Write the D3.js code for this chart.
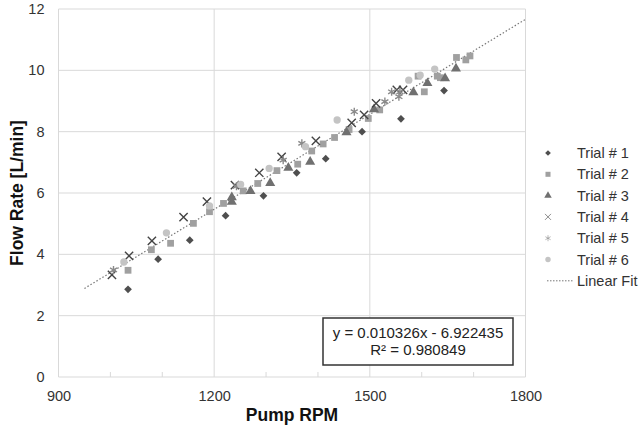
<!DOCTYPE html>
<html><head><meta charset="utf-8">
<script src="https://cdn.jsdelivr.net/npm/d3@7"></script>
<style>body{margin:0;background:#fff;} text{font-family:"Liberation Sans",Arial,sans-serif;}</style>
</head><body>
<svg id="c" width="639" height="430"></svg>
<script>
// Data (RPM, flow rate L/min)
const trial1 = [[1034,2.86],[1092,3.84],[1153,4.46],[1222,5.26],[1295,5.91],[1359,6.66],[1415,7.12],[1485,8.0],[1560,8.42],[1643,9.34]];
const trial2 = [[1034,3.48],[1079,4.15],[1116,4.36],[1160,5.01],[1191,5.39],[1218,5.66],[1256,6.07],[1284,6.31],[1321,6.73],[1361,6.94],[1388,7.37],[1410,7.60],[1432,7.81],[1460,8.07],[1497,8.43],[1519,8.71],[1593,9.81],[1605,9.30],[1630,9.81],[1636,9.76],[1667,10.42],[1685,10.34],[1693,10.47]];
const trial3 = [[1234,5.71],[1234,5.86],[1270,6.06],[1308,6.32],[1343,6.82],[1385,7.02],[1455,7.98],[1508,8.73],[1584,9.28],[1611,9.58],[1645,9.74],[1666,10.06]];
const trial4 = [[1003,3.33],[1036,3.95],[1080,4.44],[1141,5.21],[1186,5.72],[1240,6.26],[1287,6.66],[1330,7.18],[1396,7.70],[1465,8.29],[1489,8.55],[1512,8.92],[1552,9.36],[1564,9.36]];
const trial5 = [[1006,3.49],[1243,6.22],[1333,7.07],[1369,7.62],[1470,8.65],[1529,8.98],[1542,9.30],[1558,9.30],[1556,9.14]];
const trial6 = [[1026,3.75],[1108,4.70],[1191,5.58],[1251,6.28],[1306,6.80],[1376,7.51],[1437,8.38],[1575,9.68],[1597,9.84],[1625,10.04]];
const seriesNames = ["Trial # 1","Trial # 2","Trial # 3","Trial # 4","Trial # 5","Trial # 6"];
const fitSlope = 0.010326, fitIntercept = -6.922435, fitR2 = "0.980849";
const fitRange = [950, 1800];
const xTicks = [900,1200,1500,1800];
const xMinorTicks = [1000,1100,1300,1400,1600,1700];
const yTicks = [0,2,4,6,8,10,12];

const series = [trial1,trial2,trial3,trial4,trial5,trial6];
const styles = [
  {sym:d3.symbolSquare, size:30, rot:45, fill:"#4f4f4f", stroke:null},
  {sym:d3.symbolSquare, size:46, rot:0, fill:"#a0a0a0", stroke:null},
  {sym:d3.symbolTriangle, size:44, rot:0, fill:"#707070", stroke:null},
  {sym:d3.symbolTimes, size:46, rot:0, fill:"none", stroke:"#444"},
  {sym:d3.symbolAsterisk, size:46, rot:0, fill:"none", stroke:"#8a8a8a"},
  {sym:d3.symbolCircle, size:42, rot:0, fill:"#c4c4c4", stroke:null}
];

const svg = d3.select("#c");
const L=58.5, R=525.5, T=9, B=377;
const x = d3.scaleLinear().domain([900,1800]).range([L,R]);
const y = d3.scaleLinear().domain([0,12]).range([B,T]);

// grid
svg.append("g").selectAll("line").data(yTicks).join("line")
  .attr("x1",L).attr("x2",R).attr("y1",d=>y(d)).attr("y2",d=>y(d))
  .attr("stroke","#d9d9d9").attr("stroke-width",1);
svg.append("g").selectAll("line").data(xTicks).join("line")
  .attr("y1",T).attr("y2",B).attr("x1",d=>x(d)).attr("x2",d=>x(d))
  .attr("stroke","#d9d9d9").attr("stroke-width",1);
// minor ticks
svg.append("g").selectAll("line").data(xMinorTicks).join("line")
  .attr("y1",B).attr("y2",B-5).attr("x1",d=>x(d)).attr("x2",d=>x(d))
  .attr("stroke","#d9d9d9").attr("stroke-width",1);

// axes labels
const xAxis = d3.axisBottom(x).tickValues(xTicks).tickFormat(d3.format("d")).tickSize(0).tickPadding(14);
const gx = svg.append("g").attr("transform",`translate(0,${B})`).call(xAxis);
gx.select(".domain").remove();
gx.selectAll("text").attr("font-size",14.5).attr("fill","#333").attr("font-family","Liberation Sans, Arial, sans-serif");
const yAxis = d3.axisLeft(y).tickValues(yTicks).tickFormat(d3.format("d")).tickSize(0).tickPadding(14);
const gy = svg.append("g").attr("transform",`translate(${L},0)`).call(yAxis);
gy.select(".domain").remove();
gy.selectAll("text").attr("font-size",14.5).attr("fill","#333").attr("font-family","Liberation Sans, Arial, sans-serif");

// fit line
svg.append("line")
  .attr("x1",x(fitRange[0])).attr("y1",y(fitSlope*fitRange[0]+fitIntercept))
  .attr("x2",x(fitRange[1])).attr("y2",y(fitSlope*fitRange[1]+fitIntercept))
  .attr("stroke","#777").attr("stroke-width",1.2).attr("stroke-dasharray","1.5,2");

// points
series.forEach((s,i)=>{
  const st = styles[i];
  const sym = d3.symbol().type(st.sym).size(st.size);
  svg.append("g").selectAll("path").data(s).join("path")
    .attr("d",sym)
    .attr("transform",d=>`translate(${x(d[0])},${y(d[1])}) rotate(${st.rot})`)
    .attr("fill",st.fill)
    .attr("stroke",st.stroke||"none")
    .attr("stroke-width",st.stroke?1.4:0);
});

// axis titles
svg.append("text").attr("x",(L+R)/2).attr("y",421).attr("text-anchor","middle")
  .attr("font-size",17.5).attr("font-weight","bold").attr("fill","#111").text("Pump RPM");
svg.append("text").attr("transform",`translate(23,${(T+B)/2}) rotate(-90)`).attr("text-anchor","middle")
  .attr("font-size",17.5).attr("font-weight","bold").attr("fill","#111").text("Flow Rate [L/min]");

// equation box
svg.append("rect").attr("x",323).attr("y",318).attr("width",190).attr("height",47)
  .attr("fill","#fff").attr("stroke","#333").attr("stroke-width",1.5);
svg.append("text").attr("x",418).attr("y",338).attr("text-anchor","middle").attr("font-size",15).attr("fill","#222")
  .text(`y = ${fitSlope.toFixed(6)}x - ${Math.abs(fitIntercept).toFixed(6)}`);
svg.append("text").attr("x",418).attr("y",355).attr("text-anchor","middle").attr("font-size",15).attr("fill","#222")
  .text(`R² = ${fitR2}`);

// legend
const legY0 = 153, legDy = 21.3;
seriesNames.forEach((n,i)=>{
  const st = styles[i];
  const yy = legY0 + i*legDy;
  svg.append("path").attr("d",d3.symbol().type(st.sym).size(st.size*0.55)())
    .attr("transform",`translate(548,${yy}) rotate(${st.rot})`)
    .attr("fill",st.fill).attr("stroke",st.stroke||"none").attr("stroke-width",st.stroke?1:0)
    .attr("opacity", st.stroke?0.6:1);
  svg.append("text").attr("x",577).attr("y",yy+5).attr("font-size",14.5).attr("fill","#333").text(n);
});
const fy = legY0 + 6*legDy;
svg.append("line").attr("x1",547).attr("x2",574).attr("y1",fy).attr("y2",fy)
  .attr("stroke","#777").attr("stroke-width",1).attr("stroke-dasharray","1.5,1.5");
svg.append("text").attr("x",577).attr("y",fy+5).attr("font-size",14.5).attr("fill","#333").text("Linear Fit");
</script>
</body></html>
